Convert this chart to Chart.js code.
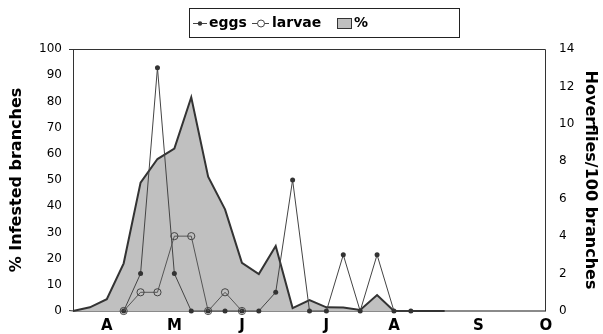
<!DOCTYPE html>
<html>
<head>
<meta charset="utf-8">
<script src="https://cdn.jsdelivr.net/npm/chart.js@4.4.0/dist/chart.umd.min.js"></script>
<style>
  html, body { margin: 0; padding: 0; background: #fff; }
</style>
</head>
<body>
<canvas id="hoverfly_chart" width="603" height="334"></canvas>
<script>
// month labels sit on week numbers of the x axis
const monthLabels = ["A", "M", "J", "J", "A", "S", "O"];
const monthWeeks = [2, 6, 10, 15, 19, 24, 28];

// % infested branches, weekly from week 0
const pctStartWeek = 0;
const pctInfested = [0, 1.4, 4.5, 18.2, 49, 58, 62, 81.6, 51.3, 38.8, 18.4, 14.1, 24.8,
  1.1, 4.2, 1.4, 1.3, 0.4, 6.1, 0, 0, 0, 0];

// hoverflies / 100 branches
const eggsStartWeek = 3;
const eggs = [0, 2, 13, 2, 0, 0, 0, 0, 0, 1, 7, 0, 0, 3, 0, 3, 0, 0];
const larvaeStartWeek = 3;
const larvae = [0, 1, 1, 4, 4, 0, 1, 0];

function toPoints(start, values) {
  return values.map((v, i) => ({ x: start + i, y: v }));
}

const FONT = "'DejaVu Sans', sans-serif";

const frame = {
  id: "frame",
  beforeDatasetsDraw(chart) {
    const a = chart.chartArea;
    const ctx = chart.ctx;
    ctx.save();
    ctx.strokeStyle = "#8a8a8a";
    ctx.lineWidth = 2;
    ctx.beginPath();
    ctx.moveTo(a.left, a.bottom);
    ctx.lineTo(a.right, a.bottom);
    ctx.stroke();
    ctx.strokeStyle = "#333";
    ctx.lineWidth = 1;
    ctx.beginPath();
    ctx.moveTo(a.left - 4, a.top + 0.5);
    ctx.lineTo(a.right - 0.5, a.top + 0.5);
    ctx.lineTo(a.right - 0.5, a.bottom);
    ctx.moveTo(a.left + 0.5, a.top);
    ctx.lineTo(a.left + 0.5, a.bottom);
    ctx.lineTo(a.left - 4, a.bottom - 0.5);
    ctx.stroke();
    ctx.restore();
  }
};

const legendBox = {
  id: "legendBox",
  afterDraw(chart) {
    const ctx = chart.ctx;
    const ds = chart.data.datasets;
    const cy = 23.5;
    ctx.save();
    ctx.strokeStyle = "#222";
    ctx.lineWidth = 1;
    ctx.strokeRect(189.5, 8.5, 270, 29);

    ctx.font = "bold 14px " + FONT;
    ctx.textBaseline = "middle";
    ctx.fillStyle = "#000";

    // eggs
    ctx.strokeStyle = "#444";
    ctx.beginPath(); ctx.moveTo(193, cy); ctx.lineTo(207, cy); ctx.stroke();
    ctx.fillStyle = "#333";
    ctx.beginPath(); ctx.arc(200, cy, 2.2, 0, Math.PI * 2); ctx.fill();
    ctx.fillStyle = "#000";
    ctx.fillText(ds[0].label, 209, cy);

    // larvae
    ctx.beginPath(); ctx.moveTo(252, cy); ctx.lineTo(269, cy); ctx.stroke();
    ctx.fillStyle = "#fff";
    ctx.beginPath(); ctx.arc(261, cy, 3.5, 0, Math.PI * 2); ctx.fill(); ctx.stroke();
    ctx.fillStyle = "#000";
    ctx.fillText(ds[1].label, 272, cy);

    // %
    ctx.fillStyle = "#c0c0c0";
    ctx.fillRect(337.5, 18.5, 14, 10);
    ctx.strokeStyle = "#333";
    ctx.strokeRect(337.5, 18.5, 14, 10);
    ctx.fillStyle = "#000";
    ctx.fillText(ds[2].label, 354, cy);
    ctx.restore();
  }
};

new Chart(document.getElementById("hoverfly_chart"), {
  type: "line",
  data: {
    datasets: [
      {
        label: "eggs",
        data: toPoints(eggsStartWeek, eggs),
        yAxisID: "y1",
        borderColor: "#444",
        borderWidth: 1,
        pointRadius: 2.5,
        pointBackgroundColor: "#333",
        pointBorderColor: "#333",
        pointBorderWidth: 0,
        fill: false,
        clip: false,
        order: 1,
      },
      {
        label: "larvae",
        data: toPoints(larvaeStartWeek, larvae),
        yAxisID: "y1",
        borderColor: "#555",
        borderWidth: 1,
        pointRadius: 3.6,
        pointBackgroundColor: "transparent",
        pointBorderColor: "#444",
        pointBorderWidth: 1,
        fill: false,
        clip: false,
        order: 0,
      },
      {
        label: "%",
        data: toPoints(pctStartWeek, pctInfested),
        yAxisID: "y",
        borderColor: "#333",
        backgroundColor: "#c0c0c0",
        borderWidth: 2,
        pointRadius: 0,
        fill: "origin",
        clip: false,
        order: 2,
      },
    ],
  },
  options: {
    responsive: false,
    devicePixelRatio: 1,
    animation: false,
    layout: { padding: { top: 49, left: 0, right: 0, bottom: 0 } },
    scales: {
      x: {
        type: "linear",
        min: 0,
        max: 28,
        grid: { display: false, drawTicks: false },
        border: { display: false },
        afterBuildTicks: (scale) => {
          scale.ticks = monthWeeks.map((w) => ({ value: w }));
        },
        afterFit: (scale) => { scale.height = 23; },
        ticks: {
          autoSkip: false,
          maxRotation: 0,
          padding: 6,
          color: "#000",
          font: { family: FONT, size: 15, weight: "bold" },
          callback: (v) => monthLabels[monthWeeks.indexOf(v)],
        },
      },
      y: {
        position: "left",
        min: 0,
        max: 100,
        grid: { display: false, drawTicks: false },
        border: { display: false },
        afterFit: (scale) => { scale.width = 73; },
        ticks: {
          stepSize: 10,
          padding: 11,
          color: "#000",
          font: { family: FONT, size: 12 },
        },
        title: {
          display: true,
          text: "% Infested branches",
          color: "#000",
          padding: { top: 7, bottom: 0 },
          font: { family: FONT, size: 16, weight: "bold" },
        },
      },
      y1: {
        position: "right",
        min: 0,
        max: 14,
        grid: { display: false, drawTicks: false },
        border: { display: false },
        afterFit: (scale) => { scale.width = 57; },
        ticks: {
          stepSize: 2,
          padding: 13,
          color: "#000",
          font: { family: FONT, size: 12 },
        },
        title: {
          display: true,
          text: "Hoverflies/100 branches",
          color: "#000",
          padding: { top: 3, bottom: 0 },
          font: { family: FONT, size: 16, weight: "bold" },
        },
      },
    },
    plugins: {
      legend: { display: false },
      tooltip: { enabled: false },
    },
  },
  plugins: [frame, legendBox],
});
</script>
</body>
</html>
